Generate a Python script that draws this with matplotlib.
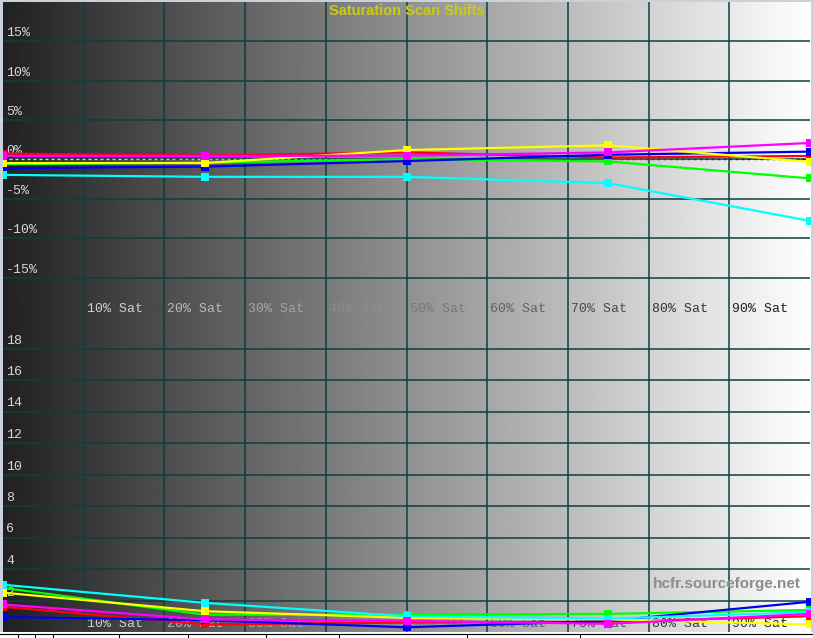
import matplotlib
matplotlib.use("Agg")
import matplotlib.pyplot as plt
from matplotlib.collections import LineCollection
from matplotlib.patches import Rectangle
import numpy as np

SAT = [0, 25, 50, 75, 100]
COLORS = {"red": "#ff0010", "green": "#00ff00", "blue": "#0000f0",
          "yellow": "#ffff00", "cyan": "#00ffff", "magenta": "#ff00ff"}

# colour shift per saturation step (%)
SHIFT_RED = [0.75, 0.5, 0.9, 0.25, 0.45]
SHIFT_GREEN = [-0.6, -0.4, 0.05, -0.25, -2.4]
SHIFT_BLUE = [-1.1, -0.9, -0.2, 0.6, 1.0]
SHIFT_YELLOW = [-0.45, -0.45, 1.2, 1.8, -0.3]
SHIFT_CYAN = [-1.95, -2.2, -2.2, -3.0, -7.8]
SHIFT_MAGENTA = [0.45, 0.45, 0.5, 0.9, 2.1]

# delta E per saturation step
DE_RED = [1.6, 0.48, 0.6, 0.65, 1.0]
DE_GREEN = [2.8, 1.1, 1.1, 1.15, 1.4]
DE_BLUE = [0.95, 0.75, 0.3, 0.7, 1.92]
DE_YELLOW = [2.5, 1.32, 0.9, 0.8, 0.48]
DE_CYAN = [3.0, 1.85, 1.0, 0.85, 1.26]
DE_MAGENTA = [1.75, 0.8, 0.7, 0.52, 1.15]

SHIFT_TICKS = [15, 10, 5, 0, -5, -10, -15]
DE_TICKS = [18, 16, 14, 12, 10, 8, 6, 4, 2]
SAT_LABELS = ["%d%% Sat" % v for v in range(10, 100, 10)]
SAT_POS = list(range(10, 100, 10))

BG_LO, BG_HI = 0.13, 1.0
MONO = "Liberation Mono"
GRID = "#0a4040"


def bg(x):
    return BG_LO + (BG_HI - BG_LO) * x / 100.0


def inv(x):
    g = min(max(1.06 - bg(x), 0.1), 0.84)
    return (g, g, g)


W, H = 813, 638
fig = plt.figure(figsize=(W / 100, H / 100), dpi=100)
fig.patch.set_facecolor("#c9d2dc")

ax_top = fig.add_axes([3 / W, (H - 317) / H, 807 / W, 315 / H])
ax_bot = fig.add_axes([3 / W, (H - 632) / H, 807 / W, 315 / H])


def setup(ax, ylo, yhi, ticks, fmt):
    grad = np.linspace(BG_LO, BG_HI, 512).reshape(1, -1)
    ax.imshow(grad, cmap="gray", vmin=0, vmax=1, aspect="auto",
              extent=[0, 100, ylo, yhi], zorder=0)
    ax.set_xlim(0, 100)
    ax.set_ylim(ylo, yhi)
    for x in SAT_POS:
        ax.axvline(x, color=GRID, lw=1.1, zorder=1)
    for t in ticks:
        ax.axhline(t, color=GRID, lw=1.1, zorder=1)
        ax.annotate(fmt % t, (0, t), xytext=(3, 8), textcoords="offset pixels",
                    ha="left", va="center", fontsize=9.5, family=MONO,
                    color=inv(1), zorder=2)
    for x, lab in zip(SAT_POS, SAT_LABELS):
        ax.annotate(lab, (x, ylo), xytext=(3, 8), textcoords="offset pixels",
                    ha="left", va="center", fontsize=9.5, family=MONO,
                    color=inv(x + 3), zorder=2)
    ax.set_xticks([])
    ax.set_yticks([])
    for s in ax.spines.values():
        s.set_visible(False)


setup(ax_top, -20, 20, SHIFT_TICKS, "%d%%")
setup(ax_bot, 0, 20, DE_TICKS, "%d")

# dashed zero reference, inverted against the background
dash_x = np.arange(0, 100, 0.75)
segs = [[(x, 0), (x + 0.37, 0)] for x in dash_x]
ax_top.add_collection(LineCollection(segs, colors=[inv(x) for x in dash_x],
                                     linewidths=1.0, zorder=3))

top_series = [("red", SHIFT_RED), ("green", SHIFT_GREEN), ("blue", SHIFT_BLUE),
              ("yellow", SHIFT_YELLOW), ("cyan", SHIFT_CYAN), ("magenta", SHIFT_MAGENTA)]
bot_series = [("red", DE_RED), ("green", DE_GREEN), ("blue", DE_BLUE),
              ("yellow", DE_YELLOW), ("cyan", DE_CYAN), ("magenta", DE_MAGENTA)]

for ax, series in [(ax_top, top_series), (ax_bot, bot_series)]:
    for name, vals in series:
        ax.plot(SAT, vals, color=COLORS[name], lw=1.6, marker="s",
                markersize=6, markeredgewidth=0, zorder=4)

ax_top.text(0.5, 0.971, "Saturation Scan Shifts", transform=ax_top.transAxes,
            ha="center", va="center", fontsize=10.5, fontweight="bold",
            family="Liberation Sans", color="#cccc10", zorder=5)
ax_bot.text(0.988, 0.152, "hcfr.sourceforge.net", transform=ax_bot.transAxes,
            ha="right", va="center", fontsize=11, fontweight="bold",
            family="Liberation Sans", color="#8c8c8c", zorder=5)

# tab strip along the bottom edge
fig.patches.append(Rectangle((0, 0), 1, 6 / H, transform=fig.transFigure,
                             facecolor="white", edgecolor="none"))
fig.lines.append(plt.Line2D([0, 1], [4.5 / H, 4.5 / H], transform=fig.transFigure,
                            color="black", lw=0.8))
for tx in [18, 35, 53, 119, 188, 266, 339, 467, 580]:
    fig.lines.append(plt.Line2D([tx / W, tx / W], [0, 4.5 / H],
                                transform=fig.transFigure, color="black", lw=0.8))

fig.savefig("out.png", dpi=100, facecolor=fig.get_facecolor())
